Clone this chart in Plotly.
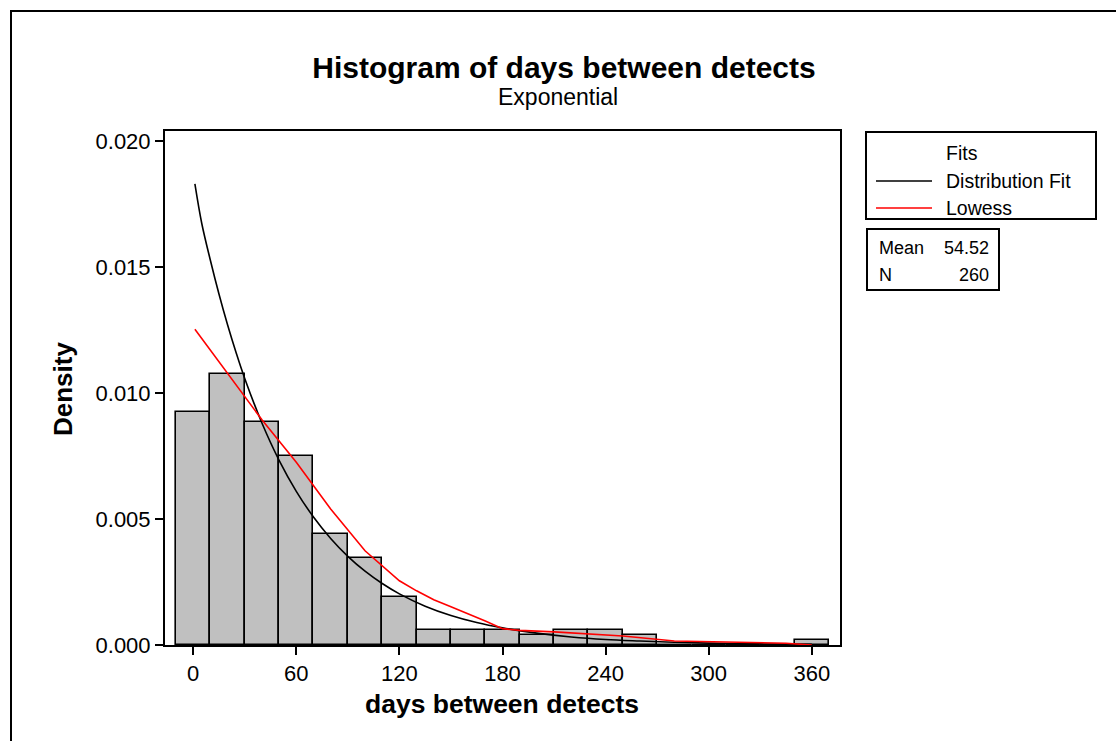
import plotly.graph_objects as go

# ---------------- data ----------------
bin_centers = [0, 20, 40, 60, 80, 100, 120, 140, 160, 180, 200, 220, 240, 260, 280, 300, 320, 340, 360]
bin_density = [0.00923, 0.01077, 0.00885, 0.00750, 0.00442, 0.00346, 0.00192, 0.00058, 0.00058, 0.00058,
               0.00038, 0.00058, 0.00058, 0.00038, 0.0, 0.0, 0.0, 0.0, 0.00019]

fit_x = [1, 5, 10, 15, 20, 25, 30, 40, 50, 60, 70, 80, 90, 100, 110, 120, 135, 150, 165, 180,
         200, 220, 240, 260, 280, 300, 330, 360]
fit_y = [0.01830, 0.01673, 0.01527, 0.01393, 0.01271, 0.01160, 0.01058, 0.00881, 0.00733, 0.00610,
         0.00508, 0.00423, 0.00352, 0.00293, 0.00244, 0.00203, 0.00154, 0.00117, 0.00089, 0.00068,
         0.00047, 0.00032, 0.00022, 0.00016, 0.00011, 0.000075, 0.000043, 0.000025]

lowess_x = [1, 20, 40, 60, 80, 100, 120, 130, 140, 150, 160, 170, 180, 190, 210, 250, 280, 300, 320, 345, 360]
lowess_y = [0.01253, 0.01080, 0.00894, 0.00725, 0.00540, 0.00374, 0.00255, 0.00215, 0.00180, 0.00152,
            0.00125, 0.00095, 0.00065, 0.00058, 0.00052, 0.00036, 0.00016, 0.00013, 0.00010, 0.00007, 0.0]

x_ticks = [0, 60, 120, 180, 240, 300, 360]
y_ticks = [0.000, 0.005, 0.010, 0.015, 0.020]
y_tick_labels = ["0.000", "0.005", "0.010", "0.015", "0.020"]

stat_names = ["Mean", "N"]
stat_values = ["54.52", "260"]

# ---------------- layout geometry ----------------
FW, FH = 1119, 742
L, R, T, B = 165, 840, 131, 645
PW, PH = R - L, B - T

def px(xp):
    return (xp - L) / PW

def py(yp):
    return (B - yp) / PH

FONT = "Liberation Sans, Arial, sans-serif"

fig = go.Figure()
fig.add_trace(go.Bar(x=bin_centers, y=bin_density, width=20,
                     marker=dict(color="#C0C0C0", line=dict(color="black", width=1.6)),
                     showlegend=False, hoverinfo="x+y"))
fig.add_trace(go.Scatter(x=fit_x, y=fit_y, mode="lines", line=dict(color="black", width=1.6),
                         line_shape="spline", showlegend=False))
fig.add_trace(go.Scatter(x=lowess_x, y=lowess_y, mode="lines", line=dict(color="#FF0000", width=1.6),
                         showlegend=False))

fig.update_layout(
    width=FW, height=FH,
    margin=dict(l=L, r=FW - R, t=T, b=FH - B, autoexpand=False),
    paper_bgcolor="white", plot_bgcolor="white",
    font=dict(family=FONT, color="black"),
    bargap=0,
    title=dict(text="<b>Histogram of days between detects</b>", xref="container", yref="container",
               x=564 / FW, y=1 - 67 / FH, xanchor="center", yanchor="middle",
               font=dict(size=30, family=FONT, color="black")),
    xaxis=dict(range=[-16.4, 376.4], tickvals=x_ticks, ticks="outside", ticklen=8, tickwidth=2,
               tickcolor="black", showline=True, linewidth=2, linecolor="black", mirror=True,
               showgrid=False, zeroline=False, tickfont=dict(size=22, family=FONT)),
    yaxis=dict(range=[0, 0.0204], tickvals=y_ticks, ticktext=y_tick_labels, ticks="outside", ticklen=8,
               tickwidth=2, tickcolor="black", showline=True, linewidth=2, linecolor="black", mirror=True,
               showgrid=False, zeroline=False, tickfont=dict(size=22, family=FONT)),
)

ann = []
# subtitle
ann.append(dict(text="Exponential", xref="paper", yref="paper", x=px(558), y=py(97),
                xanchor="center", yanchor="middle", showarrow=False, font=dict(size=23, family=FONT)))
# axis titles
ann.append(dict(text="<b>days between detects</b>", xref="paper", yref="paper", x=px(502), y=py(704),
                xanchor="center", yanchor="middle", showarrow=False, font=dict(size=26.5, family=FONT)))
ann.append(dict(text="<b>Density</b>", xref="paper", yref="paper", x=px(63), y=py(389),
                xanchor="center", yanchor="middle", showarrow=False, textangle=-90,
                font=dict(size=26, family=FONT)))
# legend texts
ann.append(dict(text="Fits", xref="paper", yref="paper", x=px(944), y=py(153),
                xanchor="left", yanchor="middle", showarrow=False, font=dict(size=19.5, family=FONT)))
ann.append(dict(text="Distribution Fit", xref="paper", yref="paper", x=px(944), y=py(181),
                xanchor="left", yanchor="middle", showarrow=False, font=dict(size=19.5, family=FONT)))
ann.append(dict(text="Lowess", xref="paper", yref="paper", x=px(944), y=py(208),
                xanchor="left", yanchor="middle", showarrow=False, font=dict(size=19.5, family=FONT)))
# stats box texts
for i, (nm, val) in enumerate(zip(stat_names, stat_values)):
    yy = 248 + i * 27
    ann.append(dict(text=nm, xref="paper", yref="paper", x=px(877), y=py(yy),
                    xanchor="left", yanchor="middle", showarrow=False, font=dict(size=18, family=FONT)))
    ann.append(dict(text=val, xref="paper", yref="paper", x=px(991), y=py(yy),
                    xanchor="right", yanchor="middle", showarrow=False, font=dict(size=18, family=FONT)))
fig.update_layout(annotations=ann)

shapes = []
# outer border (top and left edges only)
shapes.append(dict(type="line", xref="paper", yref="paper", x0=px(10), x1=px(FW - 3), y0=py(11), y1=py(11),
                   line=dict(color="black", width=2)))
shapes.append(dict(type="line", xref="paper", yref="paper", x0=px(11), x1=px(11), y0=py(10), y1=py(FH - 1),
                   line=dict(color="black", width=2)))
# legend box
shapes.append(dict(type="rect", xref="paper", yref="paper", x0=px(866), x1=px(1096), y0=py(219), y1=py(132),
                   line=dict(color="black", width=2), fillcolor="rgba(0,0,0,0)"))
shapes.append(dict(type="line", xref="paper", yref="paper", x0=px(876), x1=px(932), y0=py(181), y1=py(181),
                   line=dict(color="black", width=1.6)))
shapes.append(dict(type="line", xref="paper", yref="paper", x0=px(876), x1=px(932), y0=py(208), y1=py(208),
                   line=dict(color="#FF0000", width=1.6)))
# stats box
shapes.append(dict(type="rect", xref="paper", yref="paper", x0=px(867), x1=px(999), y0=py(290), y1=py(229),
                   line=dict(color="black", width=2), fillcolor="rgba(0,0,0,0)"))
fig.update_layout(shapes=shapes)

fig.write_html("out.html")
